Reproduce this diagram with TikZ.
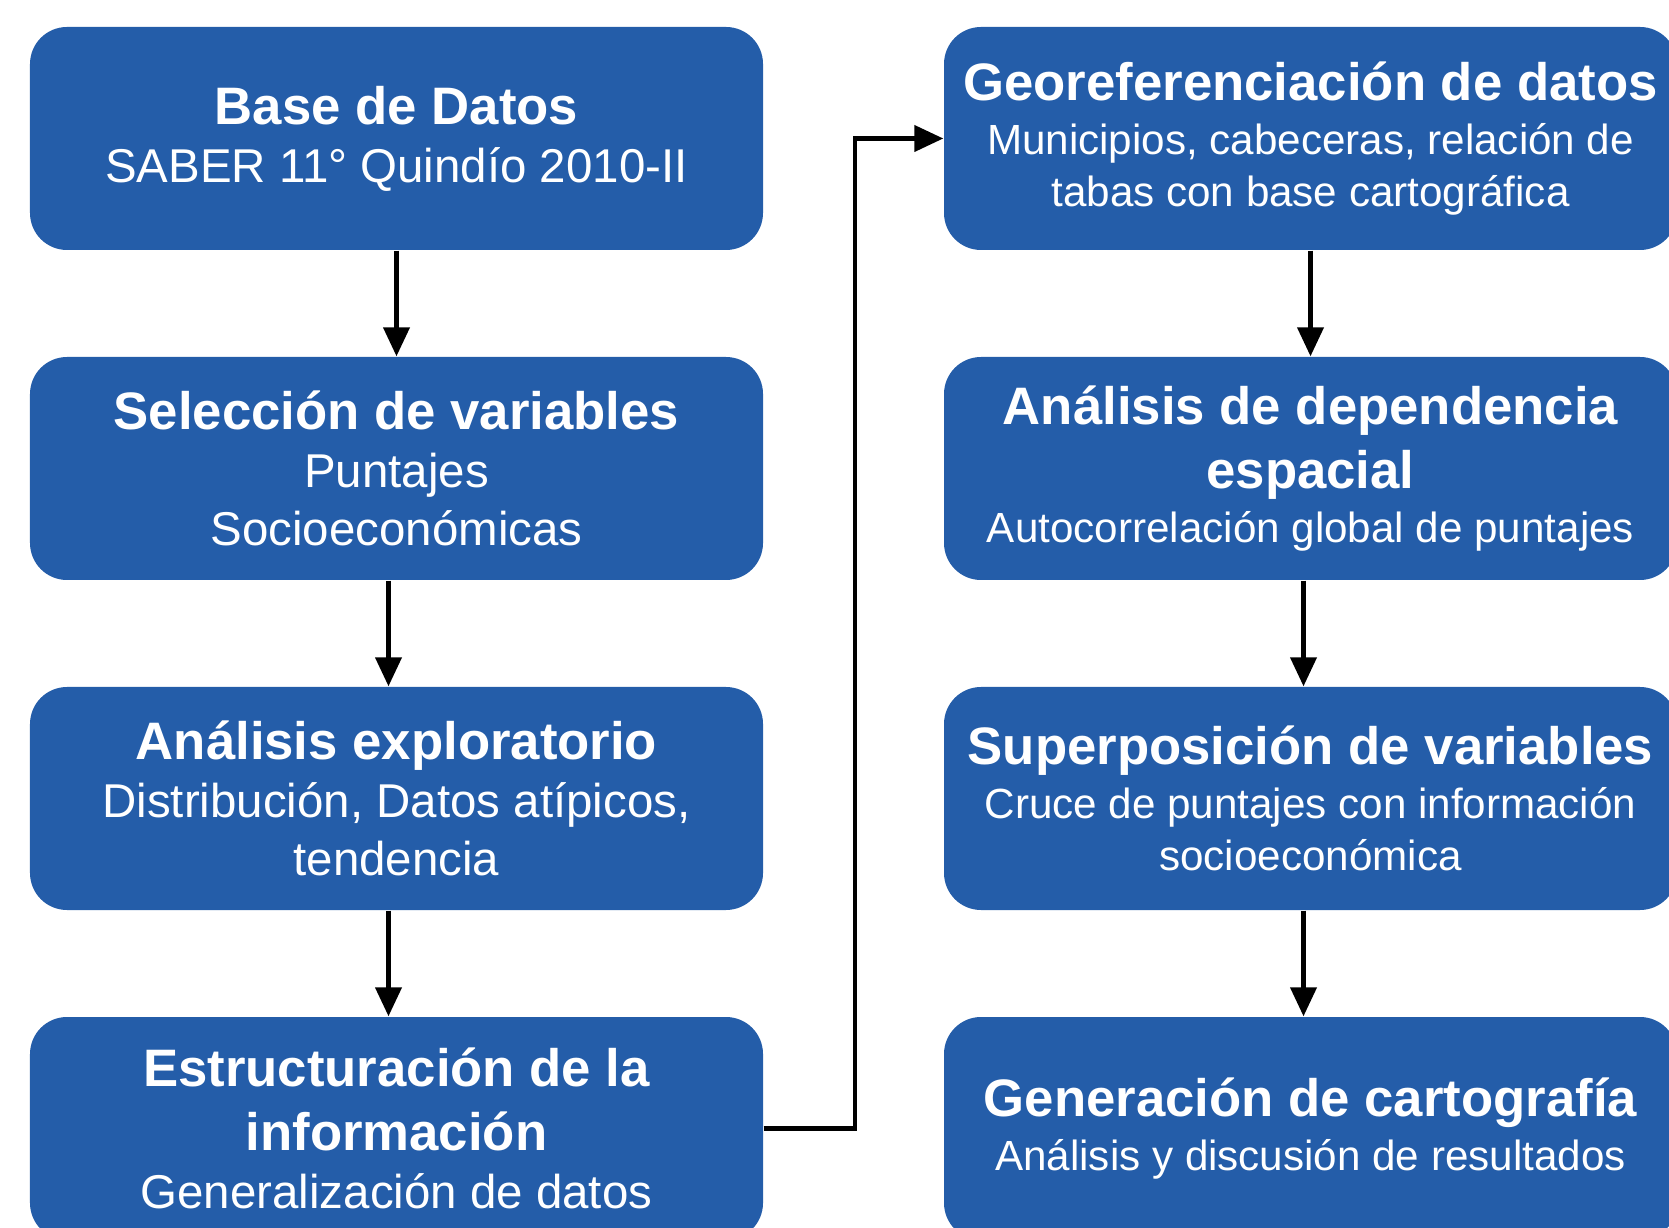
\documentclass[tikz,border=0pt]{standalone}
\usepackage{fontspec}
\setmainfont{Liberation Sans}
\usepackage{xcolor}
\usepackage{tikz}
\usetikzlibrary{positioning,arrows.meta}
\definecolor{boxblue}{HTML}{245DA9}
\newcommand{\ttl}[1]{{\fontsize{15}{18}\selectfont\bfseries #1}}

\begin{document}
\begin{tikzpicture}[
        node distance=3.3cm,
        every node/.style={
            rectangle,
            fill=boxblue,
            text=white,
            align=center,
            rounded corners=0.37cm,
            minimum width=7.33cm,
            minimum height=2.23cm,
            inner sep=0pt,
            anchor=center
        },
        leftcol/.style={
            font=\fontsize{13.5}{16.5}\selectfont
        },
        rightcol/.style={
            font=\fontsize{12}{14.8}\selectfont
        },
        arrow/.style={
            -{Triangle[length=0.29cm,width=0.26cm]},
            line width=1.2pt,
            color=black
        }
    ]
        \useasboundingbox (0,0) rectangle (16.69,-12.28);

        % Column 1
        \node (b1) [leftcol] at (3.965,-1.385) {\ttl{Base de Datos}\\ SABER 11° Quindío 2010-II};
        \node (b2) [below of=b1, leftcol] {\ttl{Selección de variables}\\ Puntajes\\ Socioeconómicas};
        \node (b3) [below of=b2, leftcol] {\ttl{Análisis exploratorio}\\ Distribución, Datos atípicos,\\ tendencia};
        \node (b4) [below of=b3, leftcol] {\ttl{Estructuración de la}\\[1.5pt] \ttl{información}\\ Generalización de datos};

        % Column 2
        \node (g1) [right of=b1, node distance=9.14cm, rightcol] {\ttl{Georeferenciación de datos}\\[0.6pt] Municipios, cabeceras, relación de\\ tabas con base cartográfica};
        \node (g2) [below of=g1, rightcol] {\ttl{Análisis de dependencia}\\[3.2pt] \ttl{espacial}\\[0.6pt] Autocorrelación global de puntajes};
        \node (g3) [below of=g2, rightcol] {\ttl{Superposición de variables}\\[0.6pt] Cruce de puntajes con información\\ socioeconómica};
        \node (g4) [below of=g3, rightcol] {\ttl{Generación de cartografía}\\[0.6pt] Análisis y discusión de resultados};

        % Edges Col 1
        \draw[arrow] (b1) -- (b2);
        \draw[arrow] ([xshift=-0.08cm]b2.south) -- ([xshift=-0.08cm]b3.north);
        \draw[arrow] ([xshift=-0.08cm]b3.south) -- ([xshift=-0.08cm]b4.north);

        % Connection Col 1 -> Col 2
        \draw[arrow] (b4.east) -- ++(0.91,0) |- (g1.west);

        % Edges Col 2
        \draw[arrow] (g1) -- (g2);
        \draw[arrow] ([xshift=-0.07cm]g2.south) -- ([xshift=-0.07cm]g3.north);
        \draw[arrow] ([xshift=-0.07cm]g3.south) -- ([xshift=-0.07cm]g4.north);

    \end{tikzpicture}
\end{document}
